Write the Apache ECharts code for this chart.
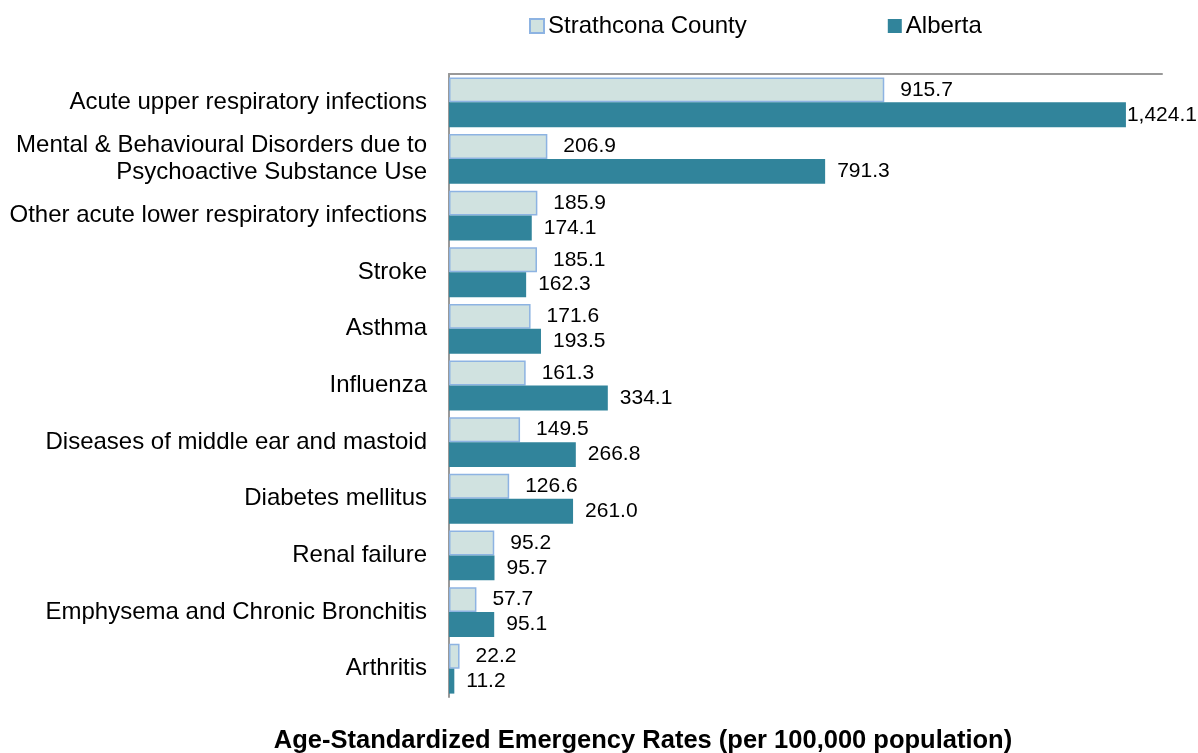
<!DOCTYPE html>
<html>
<head>
<meta charset="utf-8">
<script src="https://cdn.jsdelivr.net/npm/echarts@6/dist/echarts.min.js"></script>
<style>
    html, body { margin: 0; padding: 0; background: #fff; }
    #chart { width: 1198px; height: 753px; }
</style>
</head>
<body>
<div id="chart"></div>
<script>
// 分类（从上到下）
const categories = [
    'Acute upper respiratory infections',
    'Mental & Behavioural Disorders due to\nPsychoactive Substance Use',
    'Other acute lower respiratory infections',
    'Stroke',
    'Asthma',
    'Influenza',
    'Diseases of middle ear and mastoid',
    'Diabetes mellitus',
    'Renal failure',
    'Emphysema and Chronic Bronchitis',
    'Arthritis'
];

// Strathcona County
const strathcona = [915.7, 206.9, 185.9, 185.1, 171.6, 161.3, 149.5, 126.6, 95.2, 57.7, 22.2];

// Alberta
const alberta = [1424.1, 791.3, 174.1, 162.3, 193.5, 334.1, 266.8, 261.0, 95.7, 95.1, 11.2];

const FONT = 'Liberation Sans, Arial, sans-serif';

// 数字格式 1,424.1
function fmt(v) {
    return v.toLocaleString('en-US', { minimumFractionDigits: 1, maximumFractionDigits: 1 });
}

let chart = echarts.init(document.getElementById('chart'));

let option = {
    animation: false,
    textStyle: { fontFamily: FONT },
    legend: {
        top: 9,
        left: 524,
        itemGap: 141,
        itemWidth: 14,
        itemHeight: 14,
        icon: 'rect',
        textStyle: { fontSize: 24, color: '#000', fontFamily: FONT, padding: [0, 0, 0, -1] },
        data: ['Strathcona County', 'Alberta']
    },
    title: {
        text: 'Age-Standardized Emergency Rates (per 100,000 population)',
        left: 638,
        textAlign: 'center',
        top: 723,
        textStyle: { fontSize: 25.5, fontWeight: 'bold', color: '#000', fontFamily: FONT }
    },
    grid: {
        left: 449,
        right: 36,
        top: 74,
        bottom: 56
    },
    xAxis: {
        type: 'value',
        position: 'top',
        min: 0,
        max: 1500,
        axisLine: { show: true, lineStyle: { color: '#999', width: 2 } },
        axisTick: { show: false },
        axisLabel: { show: false },
        splitLine: { show: false }
    },
    yAxis: {
        type: 'category',
        inverse: true,
        data: categories,
        axisLine: { show: true, lineStyle: { color: '#999', width: 2 } },
        axisTick: { show: false },
        axisLabel: {
            fontSize: 24,
            color: '#000',
            margin: 22,
            lineHeight: 27,
            align: 'right',
            fontFamily: FONT
        }
    },
    series: [
        {
            name: 'Strathcona County',
            type: 'bar',
            data: strathcona,
            barGap: '0%',
            barCategoryGap: '12%',
            itemStyle: { color: '#D0E2E0', borderColor: '#8DB3E2', borderWidth: 1.5 },
            label: {
                show: true,
                position: 'right',
                distance: 16,
                fontSize: 21,
                color: '#000',
                fontFamily: FONT,
                formatter: p => fmt(p.value)
            }
        },
        {
            name: 'Alberta',
            type: 'bar',
            data: alberta.map((v, i) => i === 0 ? { value: v, label: { distance: 1 } } : v),
            itemStyle: { color: '#31849B' },
            label: {
                show: true,
                position: 'right',
                distance: 12,
                fontSize: 21,
                color: '#000',
                fontFamily: FONT,
                formatter: p => fmt(p.value)
            }
        }
    ]
};

chart.setOption(option);

window.onresize = function () {
    chart.resize();
};
</script>
</body>
</html>
